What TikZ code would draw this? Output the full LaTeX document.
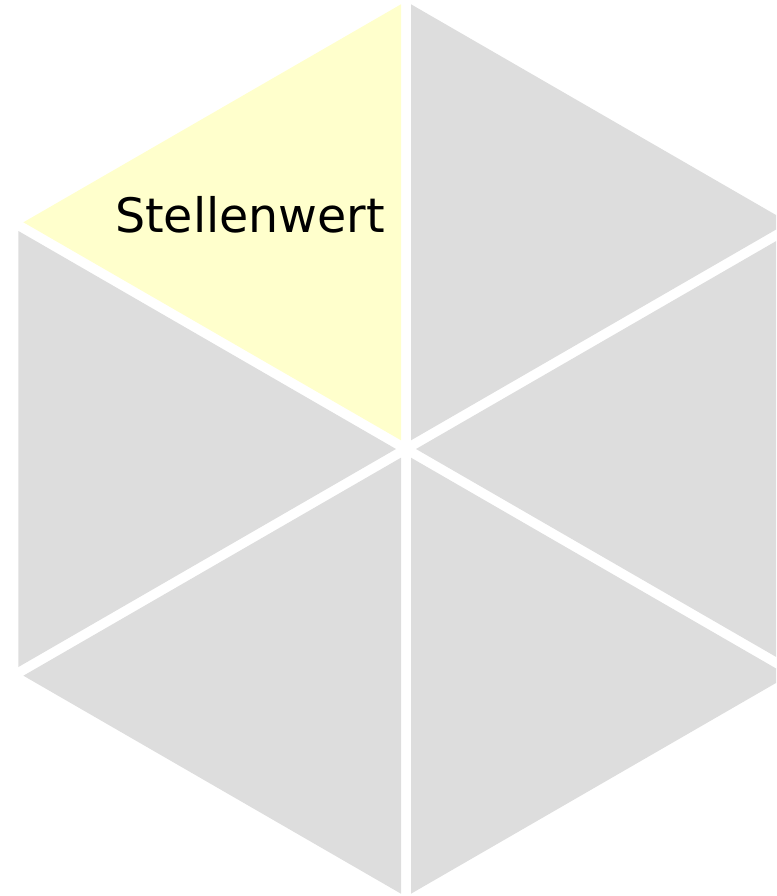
\documentclass[tikz,border=0pt]{standalone}
\usepackage{fontspec}
\setmainfont{DejaVu Sans}
\definecolor{tri}{HTML}{DDDDDD}
\definecolor{hl}{HTML}{FFFFCC}
\begin{document}
\begin{tikzpicture}[x=1pt,y=-1pt,
  lbl/.style={inner sep=0pt,anchor=base,font=\fontsize{47.5}{52}\selectfont}]
\useasboundingbox (0,0) rectangle (776,896);
\clip (0,0) rectangle (776,896);
% top-left (highlighted)
\fill[hl] (401,440.3) -- (401,4.3) -- (23.4,222.3) -- cycle;
% top-right
\fill[tri] (411,440.3) -- (411,4.3) -- (788.6,222.3) -- cycle;
% left
\fill[tri] (396,449) -- (18.4,231) -- (18.4,667) -- cycle;
% right
\fill[tri] (416,449) -- (793.6,231) -- (793.6,667) -- cycle;
% bottom-left
\fill[tri] (401,457.7) -- (401,893.7) -- (23.4,675.7) -- cycle;
% bottom-right
\fill[tri] (411,457.7) -- (411,893.7) -- (788.6,675.7) -- cycle;
\node[lbl] (label) at (250,232) {Stellenwert};
\end{tikzpicture}
\end{document}
